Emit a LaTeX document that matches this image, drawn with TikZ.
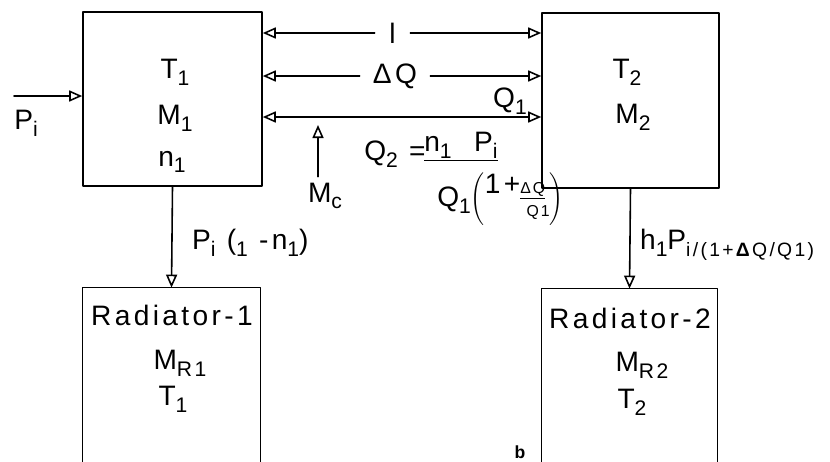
\documentclass[tikz,border=0pt]{standalone}
\usepackage{fontspec}
\setmainfont[LetterSpace=12]{Liberation Sans}
\usetikzlibrary{arrows.meta}
\newcommand\sub[1]{\raisebox{-0.45ex}{\fontsize{12}{12}\selectfont #1}}
\tikzset{
  block/.style={draw,line width=0.9pt,inner sep=0pt},
  flow/.style={line width=0.9pt,-{Triangle[open,length=2.6mm,width=2.2mm]}},
  both/.style={line width=0.9pt,{Triangle[open,length=2.6mm,width=2.2mm]}-{Triangle[open,length=2.6mm,width=2.2mm]}},
  gap/.style={inner sep=0pt,minimum height=5mm}
}
\begin{document}
\begin{tikzpicture}[x=0.2mm,y=-0.2mm,line cap=round,line join=round,every node/.style={font=\fontsize{16}{18}\selectfont}]
\useasboundingbox (0,0) rectangle (830,461);

% The two tanks and the two radiators.
\node[block,minimum width=35.8mm,minimum height=34.8mm] (tank1) at (172.5,99) {};
\node[block,minimum width=35.4mm,minimum height=35mm]   (tank2) at (630.5,100.5) {};
\node[inner sep=0pt,minimum width=35.4mm,minimum height=36mm] (rad1) at (171.5,378) {};
\node[inner sep=0pt,minimum width=35mm,minimum height=36mm]   (rad2) at (629.5,379) {};
\draw[line width=0.9pt] (rad1.south west)--(rad1.north west)--(rad1.north east)--(rad1.south east);
\draw[line width=0.9pt] (rad2.south west)--(rad2.north west)--(rad2.north east)--(rad2.south east);

% Quantities held in each block.
\node (t1)  at (175,72)  {T\sub{1}};
\node (m1)  at (175,118) {M\sub{1}};
\node (n1)  at (172,162) {n\sub{1}};
\node (t2)  at (627,72)  {T\sub{2}};
\node (m2)  at (633,117) {M\sub{2}};
\node (r1)  at (172,315) {Radiator-1};
\node (mr1) at (180,363) {M\sub{R1}};
\node (tr1) at (173,399) {T\sub{1}};
\node (r2)  at (630,318) {Radiator-2};
\node (mr2) at (642,365) {M\sub{R2}};
\node (tr2) at (632,402) {T\sub{2}};

% Links between the two tanks.
\node[gap,minimum width=7mm]  (len) at (392.5,33) {l};
\node[gap,minimum width=14mm] (dq)  at (395,76)  {ΔQ};
\draw[flow] (len.west) -- (tank1.east |- len);
\draw[flow] (len.east) -- (tank2.west |- len);
\draw[flow] (dq.west)  -- (tank1.east |- dq);
\draw[flow] (dq.east)  -- (tank2.west |- dq);
\coordinate (row3) at (400,117);
\draw[both] (tank1.east |- row3) -- (tank2.west |- row3);
\node (q1) at (510,101) {Q\sub{1}};

% Mc pointing at the lower link.
\coordinate (mctip) at (318,125);
\node (mc) at (325,196) {M\sub{c}};
\draw[flow] (mctip |- mc.north) -- (mctip);

% Power in, and heat down to the radiators.
\coordinate (pin) at (14,96);
\node (pi) at (26,123) {P\sub{i}};
\draw[flow] (pin) -- (tank1.west |- pin);
\draw[flow] (tank1.south) -- (rad1.north);
\draw[flow] (tank2.south) -- (rad2.north);
\node[anchor=west] (loss1) at (186,243) {P\sub{i} (\sub{1} -n\sub{1})};
\node[anchor=west,inner sep=1pt] (loss2) at (638,245)
  {h\sub{1}P\raisebox{-0.45ex}{\fontsize{11}{11}\selectfont i/(1+\textbf{Δ}Q/Q1)}};

% Expression for Q2.
\node[anchor=west,inner sep=0pt] (q2)  at (364,154) {Q\sub{2} =};
\node[anchor=west,inner sep=0pt] (num) at (424,147) {\underline{n\sub{1}\ \ P\sub{i}}};
\node[anchor=west,inner sep=0pt] (den) at (437,199)
  {\renewcommand\arraystretch{0.75}Q\sub{1}$\left(\begin{tabular}{@{}r@{}l@{}}1+&\underline{\small ΔQ}\\ &\small\ Q1\end{tabular}\right)$};

\node[font=\fontsize{10}{10}\selectfont\bfseries] (tag) at (520,452) {b};
\end{tikzpicture}
\end{document}
